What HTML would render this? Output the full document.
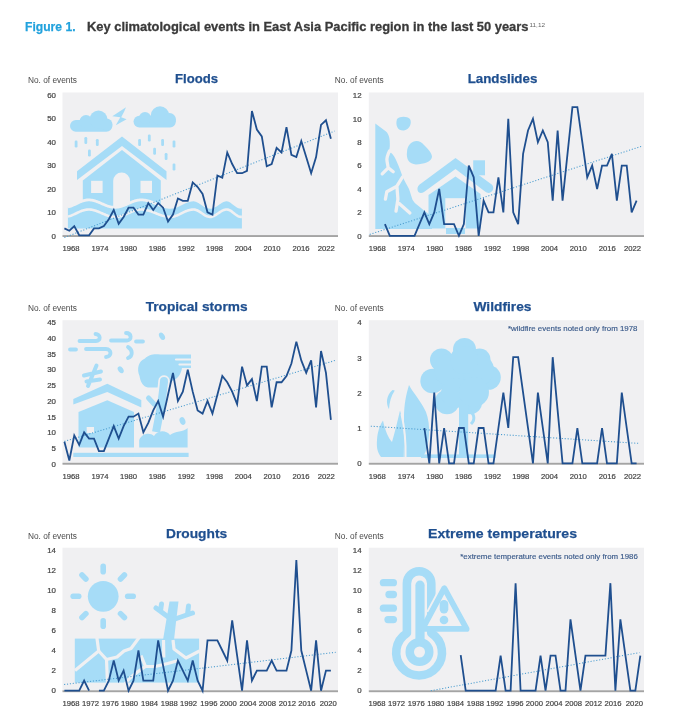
<!DOCTYPE html>
<html><head><meta charset="utf-8"><style>
html,body{margin:0;padding:0;background:#fff;width:680px;height:726px;overflow:hidden}
svg{display:block;will-change:transform}
text{font-family:"Liberation Sans", sans-serif}
</style></head><body>
<svg width="680" height="726" viewBox="0 0 680 726">
<text x="25" y="31.4" font-size="13.4" font-weight="bold" fill="#22a2dd" stroke="#22a2dd" stroke-width="0.25" textLength="50.5" lengthAdjust="spacingAndGlyphs">Figure 1.</text>
<text x="87" y="31.4" font-size="13.4" font-weight="bold" fill="#3a3a3a" stroke="#3a3a3a" stroke-width="0.3" textLength="441.5" lengthAdjust="spacingAndGlyphs">Key climatological events in East Asia Pacific region in the last 50 years</text>
<text x="529.5" y="26.5" font-size="6" fill="#666" textLength="15.5" lengthAdjust="spacingAndGlyphs">11,12</text>
<rect x="62.5" y="92.5" width="275.5" height="143.3" fill="#f0f0f2"/>
<g fill="#a6dcf7">
<rect x="70" y="120" width="42.3" height="11.8" rx="5.9"/>
<circle cx="86" cy="121.5" r="6.5"/><circle cx="98.5" cy="119.5" r="9"/><circle cx="106.5" cy="124.5" r="6"/>
<rect x="133.5" y="115.8" width="42.3" height="11.6" rx="5.8"/>
<circle cx="145" cy="118" r="6"/><circle cx="160" cy="115.5" r="9.2"/><circle cx="169.5" cy="119.5" r="6.5"/>
<polygon points="126,107.3 112.3,116.3 120.3,117.3 115.8,125.2 126.6,119.2 121.2,117.2 124.2,111.5"/>
<rect x="74.7" y="140.5" width="2.8" height="7" rx="1.2"/>
<rect x="84.4" y="137" width="2.8" height="7" rx="1.2"/>
<rect x="95.9" y="139" width="2.8" height="7" rx="1.2"/>
<rect x="88" y="149.5" width="2.8" height="7" rx="1.2"/>
<rect x="138.2" y="139" width="2.8" height="7" rx="1.2"/>
<rect x="147.9" y="134.5" width="2.8" height="7" rx="1.2"/>
<rect x="161.2" y="139" width="2.8" height="7" rx="1.2"/>
<rect x="172.6" y="140.5" width="2.8" height="7" rx="1.2"/>
<rect x="153.2" y="147.7" width="2.8" height="7" rx="1.2"/>
<rect x="164.7" y="153" width="2.8" height="7" rx="1.2"/>
<rect x="172.6" y="163.5" width="2.8" height="7" rx="1.2"/>
<polygon points="77,171.3 122,136.5 166.5,171.3 166.5,180 122,146 77,180"/>
<polygon points="82.8,180.6 122,150 160.8,180.6 160.8,206 82.8,206"/>
</g>
<g fill="#f0f0f2">
<rect x="91.1" y="180.8" width="11.5" height="12.2"/><rect x="140.5" y="180.8" width="11.5" height="12.2"/>
<path d="M113.2,206 L113.2,181 A8.4,8.4 0 0 1 130,181 L130,206 Z"/>
</g>
<polygon fill="#a6dcf7" points="67.9,206.94 68.9,206.7 69.9,206.41 70.9,206.08 71.9,205.7 72.9,205.28 73.9,204.84 74.9,204.37 75.9,203.89 76.9,203.41 77.9,202.93 78.9,202.46 79.9,202.01 80.9,201.58 81.9,201.2 82.9,200.85 83.9,200.55 84.9,200.3 85.9,200.11 86.9,199.98 87.9,199.91 88.9,199.9 89.9,199.95 90.9,200.05 91.9,200.2 92.9,200.39 93.9,200.63 94.9,200.91 95.9,201.23 96.9,201.59 97.9,201.97 98.9,202.37 99.9,202.8 100.9,203.23 101.9,203.67 102.9,204.1 103.9,204.53 104.9,204.95 105.9,205.35 106.9,205.72 107.9,206.06 108.9,206.37 109.9,206.64 110.9,206.87 111.9,207.05 112.9,207.19 113.9,207.27 114.9,207.3 115.9,207.28 116.9,207.21 117.9,207.08 118.9,206.91 119.9,206.69 120.9,206.42 121.9,206.12 122.9,205.78 123.9,205.41 124.9,205.02 125.9,204.6 126.9,204.17 127.9,203.73 128.9,203.29 129.9,202.86 130.9,202.43 131.9,202.02 132.9,201.64 133.9,201.28 134.9,200.95 135.9,200.66 136.9,200.42 137.9,200.22 138.9,200.06 139.9,199.96 140.9,199.91 141.9,199.91 142.9,199.95 143.9,200.04 144.9,200.17 145.9,200.34 146.9,200.55 147.9,200.8 148.9,201.09 149.9,201.4 150.9,201.74 151.9,202.1 152.9,202.48 153.9,202.87 154.9,203.28 155.9,203.68 156.9,204.09 157.9,204.49 158.9,204.87 159.9,205.25 160.9,205.6 161.9,205.93 162.9,206.23 163.9,206.5 164.9,206.73 165.9,206.93 166.9,207.09 167.9,207.2 168.9,207.27 169.9,207.3 170.9,207.27 171.9,207.18 172.9,207.03 173.9,206.81 174.9,206.53 175.9,206.21 176.9,205.83 177.9,205.42 178.9,204.98 179.9,204.51 180.9,204.02 181.9,203.53 182.9,203.03 183.9,202.55 184.9,202.09 185.9,201.65 186.9,201.25 187.9,200.89 188.9,200.58 189.9,200.32 190.9,200.12 191.9,199.98 192.9,199.91 193.9,199.91 194.9,200.03 195.9,200.28 196.9,200.65 197.9,201.12 198.9,201.69 199.9,202.32 200.9,203 201.9,203.71 202.9,204.4 203.9,205.07 204.9,205.69 205.9,206.23 206.9,206.67 207.9,207.01 208.9,207.22 209.9,207.3 210.9,207.25 211.9,207.07 212.9,206.76 213.9,206.35 214.9,205.84 215.9,205.25 216.9,204.6 217.9,203.91 218.9,203.22 219.9,202.54 220.9,201.89 221.9,201.31 222.9,200.81 223.9,200.4 224.9,200.11 225.9,199.94 226.9,199.9 227.9,200.03 228.9,200.32 229.9,200.78 230.9,201.37 231.9,202.06 232.9,202.83 233.9,203.64 234.9,204.45 235.9,205.21 236.9,205.9 237.9,206.47 238.9,206.91 239.9,207.19 240.9,207.3 241.9,207.3 241.9,228.6 67.9,228.6"/>
<polyline fill="none" stroke="#f0f0f2" stroke-width="2.8" points="67.9,206.94 68.9,206.7 69.9,206.41 70.9,206.08 71.9,205.7 72.9,205.28 73.9,204.84 74.9,204.37 75.9,203.89 76.9,203.41 77.9,202.93 78.9,202.46 79.9,202.01 80.9,201.58 81.9,201.2 82.9,200.85 83.9,200.55 84.9,200.3 85.9,200.11 86.9,199.98 87.9,199.91 88.9,199.9 89.9,199.95 90.9,200.05 91.9,200.2 92.9,200.39 93.9,200.63 94.9,200.91 95.9,201.23 96.9,201.59 97.9,201.97 98.9,202.37 99.9,202.8 100.9,203.23 101.9,203.67 102.9,204.1 103.9,204.53 104.9,204.95 105.9,205.35 106.9,205.72 107.9,206.06 108.9,206.37 109.9,206.64 110.9,206.87 111.9,207.05 112.9,207.19 113.9,207.27 114.9,207.3 115.9,207.28 116.9,207.21 117.9,207.08 118.9,206.91 119.9,206.69 120.9,206.42 121.9,206.12 122.9,205.78 123.9,205.41 124.9,205.02 125.9,204.6 126.9,204.17 127.9,203.73 128.9,203.29 129.9,202.86 130.9,202.43 131.9,202.02 132.9,201.64 133.9,201.28 134.9,200.95 135.9,200.66 136.9,200.42 137.9,200.22 138.9,200.06 139.9,199.96 140.9,199.91 141.9,199.91 142.9,199.95 143.9,200.04 144.9,200.17 145.9,200.34 146.9,200.55 147.9,200.8 148.9,201.09 149.9,201.4 150.9,201.74 151.9,202.1 152.9,202.48 153.9,202.87 154.9,203.28 155.9,203.68 156.9,204.09 157.9,204.49 158.9,204.87 159.9,205.25 160.9,205.6 161.9,205.93 162.9,206.23 163.9,206.5 164.9,206.73 165.9,206.93 166.9,207.09 167.9,207.2 168.9,207.27 169.9,207.3 170.9,207.27 171.9,207.18 172.9,207.03 173.9,206.81 174.9,206.53 175.9,206.21 176.9,205.83 177.9,205.42 178.9,204.98 179.9,204.51 180.9,204.02 181.9,203.53 182.9,203.03 183.9,202.55 184.9,202.09 185.9,201.65 186.9,201.25 187.9,200.89 188.9,200.58 189.9,200.32 190.9,200.12 191.9,199.98 192.9,199.91 193.9,199.91 194.9,200.03 195.9,200.28 196.9,200.65 197.9,201.12 198.9,201.69 199.9,202.32 200.9,203 201.9,203.71 202.9,204.4 203.9,205.07 204.9,205.69 205.9,206.23 206.9,206.67 207.9,207.01 208.9,207.22 209.9,207.3 210.9,207.25 211.9,207.07 212.9,206.76 213.9,206.35 214.9,205.84 215.9,205.25 216.9,204.6 217.9,203.91 218.9,203.22 219.9,202.54 220.9,201.89 221.9,201.31 222.9,200.81 223.9,200.4 224.9,200.11 225.9,199.94 226.9,199.9 227.9,200.03 228.9,200.32 229.9,200.78 230.9,201.37 231.9,202.06 232.9,202.83 233.9,203.64 234.9,204.45 235.9,205.21 236.9,205.9 237.9,206.47 238.9,206.91 239.9,207.19 240.9,207.3 241.9,207.3"/>
<polyline fill="none" stroke="#f0f0f2" stroke-width="2.6" points="67.9,216.54 68.9,216.3 69.9,216.01 70.9,215.68 71.9,215.3 72.9,214.88 73.9,214.44 74.9,213.97 75.9,213.49 76.9,213.01 77.9,212.53 78.9,212.06 79.9,211.61 80.9,211.18 81.9,210.8 82.9,210.45 83.9,210.15 84.9,209.9 85.9,209.71 86.9,209.58 87.9,209.51 88.9,209.5 89.9,209.55 90.9,209.65 91.9,209.8 92.9,209.99 93.9,210.23 94.9,210.51 95.9,210.83 96.9,211.19 97.9,211.57 98.9,211.97 99.9,212.4 100.9,212.83 101.9,213.27 102.9,213.7 103.9,214.13 104.9,214.55 105.9,214.95 106.9,215.32 107.9,215.66 108.9,215.97 109.9,216.24 110.9,216.47 111.9,216.65 112.9,216.79 113.9,216.87 114.9,216.9 115.9,216.88 116.9,216.81 117.9,216.68 118.9,216.51 119.9,216.29 120.9,216.02 121.9,215.72 122.9,215.38 123.9,215.01 124.9,214.62 125.9,214.2 126.9,213.77 127.9,213.33 128.9,212.89 129.9,212.46 130.9,212.03 131.9,211.62 132.9,211.24 133.9,210.88 134.9,210.55 135.9,210.26 136.9,210.02 137.9,209.82 138.9,209.66 139.9,209.56 140.9,209.51 141.9,209.51 142.9,209.55 143.9,209.64 144.9,209.77 145.9,209.94 146.9,210.15 147.9,210.4 148.9,210.69 149.9,211 150.9,211.34 151.9,211.7 152.9,212.08 153.9,212.47 154.9,212.88 155.9,213.28 156.9,213.69 157.9,214.09 158.9,214.47 159.9,214.85 160.9,215.2 161.9,215.53 162.9,215.83 163.9,216.1 164.9,216.33 165.9,216.53 166.9,216.69 167.9,216.8 168.9,216.87 169.9,216.9 170.9,216.87 171.9,216.78 172.9,216.63 173.9,216.41 174.9,216.13 175.9,215.81 176.9,215.43 177.9,215.02 178.9,214.58 179.9,214.11 180.9,213.62 181.9,213.13 182.9,212.63 183.9,212.15 184.9,211.69 185.9,211.25 186.9,210.85 187.9,210.49 188.9,210.18 189.9,209.92 190.9,209.72 191.9,209.58 192.9,209.51 193.9,209.51 194.9,209.63 195.9,209.88 196.9,210.25 197.9,210.72 198.9,211.29 199.9,211.92 200.9,212.6 201.9,213.31 202.9,214 203.9,214.67 204.9,215.29 205.9,215.83 206.9,216.27 207.9,216.61 208.9,216.82 209.9,216.9 210.9,216.85 211.9,216.67 212.9,216.36 213.9,215.95 214.9,215.44 215.9,214.85 216.9,214.2 217.9,213.51 218.9,212.82 219.9,212.14 220.9,211.49 221.9,210.91 222.9,210.41 223.9,210 224.9,209.71 225.9,209.54 226.9,209.5 227.9,209.63 228.9,209.92 229.9,210.38 230.9,210.97 231.9,211.66 232.9,212.43 233.9,213.24 234.9,214.05 235.9,214.81 236.9,215.5 237.9,216.07 238.9,216.51 239.9,216.79 240.9,216.9 241.9,216.9"/>
<rect x="62.5" y="235.1" width="275.5" height="1.9" fill="#a4a4a4"/>
<line x1="64.4" y1="237.6" x2="334.6" y2="131.1" stroke="#4a9ccf" stroke-width="1.05" stroke-dasharray="1.1 1.8"/>
<polyline points="64.4,228.4 69.34,230.7 74.27,226.1 79.21,235.3 84.14,235.3 89.08,235.3 94.01,228.4 98.94,228.4 103.88,226.1 108.81,219.2 113.75,210 118.69,223.8 123.62,216.9 128.56,207.7 133.49,207.7 138.43,214.6 143.36,214.6 148.3,203.1 153.23,210 158.16,203.1 163.1,207.7 168.03,221.5 172.97,214.6 177.91,198.5 182.84,200.8 187.77,200.8 192.71,182.4 197.64,187 202.58,193.9 207.51,212.3 212.45,214.6 217.38,175.5 222.32,177.8 227.25,152.5 232.19,164 237.12,173.2 242.06,173.2 247,170.9 251.93,111.1 256.87,129.5 261.8,136.4 266.74,166.3 271.67,164 276.61,147.9 281.54,152.5 286.48,127.2 291.41,154.8 296.35,157.1 301.28,141 306.21,157.1 311.15,173.2 316.08,157.1 321.02,124.9 325.96,120.3 330.89,138.7" fill="none" stroke="#1f4f8f" stroke-width="1.8" stroke-linejoin="miter" stroke-miterlimit="4" />
<text x="196.6" y="82.8" font-size="13.7" fill="#1f4f8f" text-anchor="middle" font-weight="bold" textLength="43" lengthAdjust="spacingAndGlyphs" stroke="#1f4f8f" stroke-width="0.25">Floods</text>
<text x="28" y="83.4" font-size="8.3" fill="#4a4a4a" text-anchor="start" font-weight="normal" >No. of events</text>
<text x="56" y="238.95" font-size="7.9" fill="#454545" text-anchor="end" font-weight="normal" stroke="#454545" stroke-width="0.22">0</text>
<text x="56" y="215.45" font-size="7.9" fill="#454545" text-anchor="end" font-weight="normal" stroke="#454545" stroke-width="0.22">10</text>
<text x="56" y="191.95" font-size="7.9" fill="#454545" text-anchor="end" font-weight="normal" stroke="#454545" stroke-width="0.22">20</text>
<text x="56" y="168.45" font-size="7.9" fill="#454545" text-anchor="end" font-weight="normal" stroke="#454545" stroke-width="0.22">30</text>
<text x="56" y="144.95" font-size="7.9" fill="#454545" text-anchor="end" font-weight="normal" stroke="#454545" stroke-width="0.22">40</text>
<text x="56" y="121.45" font-size="7.9" fill="#454545" text-anchor="end" font-weight="normal" stroke="#454545" stroke-width="0.22">50</text>
<text x="56" y="97.95" font-size="7.9" fill="#454545" text-anchor="end" font-weight="normal" stroke="#454545" stroke-width="0.22">60</text>
<text x="71" y="251.2" font-size="7.7" fill="#454545" text-anchor="middle" font-weight="normal" stroke="#454545" stroke-width="0.2">1968</text>
<text x="100" y="251.2" font-size="7.7" fill="#454545" text-anchor="middle" font-weight="normal" stroke="#454545" stroke-width="0.2">1974</text>
<text x="128.5" y="251.2" font-size="7.7" fill="#454545" text-anchor="middle" font-weight="normal" stroke="#454545" stroke-width="0.2">1980</text>
<text x="157.3" y="251.2" font-size="7.7" fill="#454545" text-anchor="middle" font-weight="normal" stroke="#454545" stroke-width="0.2">1986</text>
<text x="186.3" y="251.2" font-size="7.7" fill="#454545" text-anchor="middle" font-weight="normal" stroke="#454545" stroke-width="0.2">1992</text>
<text x="214.6" y="251.2" font-size="7.7" fill="#454545" text-anchor="middle" font-weight="normal" stroke="#454545" stroke-width="0.2">1998</text>
<text x="243.3" y="251.2" font-size="7.7" fill="#454545" text-anchor="middle" font-weight="normal" stroke="#454545" stroke-width="0.2">2004</text>
<text x="272.1" y="251.2" font-size="7.7" fill="#454545" text-anchor="middle" font-weight="normal" stroke="#454545" stroke-width="0.2">2010</text>
<text x="301" y="251.2" font-size="7.7" fill="#454545" text-anchor="middle" font-weight="normal" stroke="#454545" stroke-width="0.2">2016</text>
<text x="326.3" y="251.2" font-size="7.7" fill="#454545" text-anchor="middle" font-weight="normal" stroke="#454545" stroke-width="0.2">2022</text>
<rect x="368.8" y="92.5" width="275.2" height="143.3" fill="#f0f0f2"/>
<g fill="#a6dcf7">
<path d="M375.3,123.4 L386,131.6 C389,134 390.2,140 389.8,146 C389.6,149 389,151 388.5,153 L391,152.7 C393.5,155 395.5,158 396.8,161.8 C399,167 401,172 402.5,176.5 C404.5,181 407,185 409,189 C410.5,193 411.5,197 412.6,200 C414,202 415,203 416,204 C418.5,206 421,208 423.7,210.2 C427,212.5 430,215 432,217 L432,229 L375.3,229 Z"/>
<path d="M397,119 C400,116 407,116 410,119 C412,123 410,129 404,130.5 C398,131 395,126 397,119 Z"/>
<path d="M410,144 C414,140 420,140 424,145 C428,149 432,153 432,157 C431,162 424,164 416,164.5 C409,164 406,159 407,152 C407,149 408,146 410,144 Z"/>
<path d="M421,183.5 L455.5,158 L491,184 C494,186 494,190 491,192 C489,193.5 487,193 485,191.5 L455.5,169 L424,192 C421,194 418,193 417.5,190 C417,187 418.5,185 421,183.5 Z"/>
<rect x="473.2" y="160.3" width="11.8" height="15"/>
<polygon points="428.5,195 455.5,176.5 480.6,194 480.6,228.4 428.5,228.4"/>
</g>
<g fill="none" stroke="#f0f0f2" stroke-width="3.3" stroke-linecap="round" stroke-linejoin="round">
<path d="M389.5,151 C387.5,155 386.5,158 387,161 L388.2,167.8 L382.2,173.8 M388.2,167.8 L393.2,171.8"/>
<path d="M402.5,177 L396.9,186.2 L386.8,191.8 L385.4,199.2 M396.9,186.2 L397.9,199.2 L396,211.2 M399.2,203.5 L409.9,213"/>
</g>
<rect x="445.3" y="198.2" width="20.3" height="30.2" fill="#f0f0f2"/>
<rect x="446" y="228" width="19" height="6" fill="#a6dcf7"/>
<rect x="368.8" y="235.1" width="275.2" height="1.9" fill="#a4a4a4"/>
<line x1="369.7" y1="234.4" x2="641.2" y2="146.4" stroke="#4a9ccf" stroke-width="1.05" stroke-dasharray="1.1 1.8"/>
<polyline points="384.91,224.1 389.84,235.8 394.78,235.8 399.71,235.8 404.65,235.8 409.58,235.8 414.52,235.8 419.45,224.1 424.38,212.4 429.32,224.1 434.25,212.4 439.19,189 444.12,224.1 449.06,224.1 454,224.1 458.93,235.8 463.87,224.1 468.8,165.6 473.74,177.3 478.67,235.8 483.61,200.7 488.54,212.4 493.48,212.4 498.41,177.3 503.35,212.4 508.28,118.8 513.22,212.4 518.15,224.1 523.09,153.9 528.02,130.5 532.96,118.8 537.89,142.2 542.83,130.5 547.76,142.2 552.7,200.7 557.63,130.5 562.57,200.7 567.5,153.9 572.43,107.1 577.37,107.1 582.31,142.2 587.24,177.3 592.17,165.6 597.11,189 602.05,165.6 606.98,165.6 611.91,153.9 616.85,200.7 621.78,165.6 626.72,165.6 631.65,212.4 636.59,200.7" fill="none" stroke="#1f4f8f" stroke-width="1.8" stroke-linejoin="miter" stroke-miterlimit="4" />
<text x="502.5" y="82.8" font-size="13.7" fill="#1f4f8f" text-anchor="middle" font-weight="bold" textLength="69.7" lengthAdjust="spacingAndGlyphs" stroke="#1f4f8f" stroke-width="0.25">Landslides</text>
<text x="334.8" y="83.4" font-size="8.3" fill="#4a4a4a" text-anchor="start" font-weight="normal" >No. of events</text>
<text x="361.6" y="238.55" font-size="7.9" fill="#454545" text-anchor="end" font-weight="normal" stroke="#454545" stroke-width="0.22">0</text>
<text x="361.6" y="215.15" font-size="7.9" fill="#454545" text-anchor="end" font-weight="normal" stroke="#454545" stroke-width="0.22">2</text>
<text x="361.6" y="191.75" font-size="7.9" fill="#454545" text-anchor="end" font-weight="normal" stroke="#454545" stroke-width="0.22">4</text>
<text x="361.6" y="168.35" font-size="7.9" fill="#454545" text-anchor="end" font-weight="normal" stroke="#454545" stroke-width="0.22">6</text>
<text x="361.6" y="144.95" font-size="7.9" fill="#454545" text-anchor="end" font-weight="normal" stroke="#454545" stroke-width="0.22">8</text>
<text x="361.6" y="121.55" font-size="7.9" fill="#454545" text-anchor="end" font-weight="normal" stroke="#454545" stroke-width="0.22">10</text>
<text x="361.6" y="98.15" font-size="7.9" fill="#454545" text-anchor="end" font-weight="normal" stroke="#454545" stroke-width="0.22">12</text>
<text x="377.2" y="251.2" font-size="7.7" fill="#454545" text-anchor="middle" font-weight="normal" stroke="#454545" stroke-width="0.2">1968</text>
<text x="406.2" y="251.2" font-size="7.7" fill="#454545" text-anchor="middle" font-weight="normal" stroke="#454545" stroke-width="0.2">1974</text>
<text x="434.7" y="251.2" font-size="7.7" fill="#454545" text-anchor="middle" font-weight="normal" stroke="#454545" stroke-width="0.2">1980</text>
<text x="463.5" y="251.2" font-size="7.7" fill="#454545" text-anchor="middle" font-weight="normal" stroke="#454545" stroke-width="0.2">1986</text>
<text x="492.5" y="251.2" font-size="7.7" fill="#454545" text-anchor="middle" font-weight="normal" stroke="#454545" stroke-width="0.2">1992</text>
<text x="520.8" y="251.2" font-size="7.7" fill="#454545" text-anchor="middle" font-weight="normal" stroke="#454545" stroke-width="0.2">1998</text>
<text x="549.5" y="251.2" font-size="7.7" fill="#454545" text-anchor="middle" font-weight="normal" stroke="#454545" stroke-width="0.2">2004</text>
<text x="578.3" y="251.2" font-size="7.7" fill="#454545" text-anchor="middle" font-weight="normal" stroke="#454545" stroke-width="0.2">2010</text>
<text x="607.2" y="251.2" font-size="7.7" fill="#454545" text-anchor="middle" font-weight="normal" stroke="#454545" stroke-width="0.2">2016</text>
<text x="632.5" y="251.2" font-size="7.7" fill="#454545" text-anchor="middle" font-weight="normal" stroke="#454545" stroke-width="0.2">2022</text>
<rect x="62.5" y="320.2" width="275.5" height="143.3" fill="#f0f0f2"/>
<g fill="none" stroke="#a6dcf7" stroke-width="3.8" stroke-linecap="round">
<path d="M79.5,341 L96,341 C101,341 101,334 95.5,334"/>
<path d="M111,340.5 L127,340.5 C132,340.5 132,333 126,333 M136,341.5 L143,341.5"/>
<path d="M70,349.5 L76,349.5 M86,349 L106,349 C112,349 112,357 106,357"/>
<path d="M128,347 C133,350 133,356 128,358"/>
</g>
<g fill="#a6dcf7">
<ellipse cx="162" cy="336.3" rx="2.6" ry="4" transform="rotate(-30 162 336.3)"/>
<ellipse cx="120.7" cy="369.8" rx="2.5" ry="3.8" transform="rotate(-35 120.7 369.8)"/>
<ellipse cx="182.5" cy="421" rx="2.8" ry="4" transform="rotate(-20 182.5 421)"/>
</g>
<g fill="none" stroke="#a6dcf7" stroke-width="4" stroke-linecap="round">
<path d="M96.5,365.5 L88,386 M84,375.5 L101,371.5 M86.5,381.5 L100,379.5"/>
</g>
<g fill="#a6dcf7">
<polygon points="73.3,399 107.3,383.8 141.3,400 141.3,407.5 107.3,392 73.3,404.5"/>
<polygon points="78.5,412 107.3,400.3 134,412 134,447.6 78.5,447.6"/>
<path d="M139.5,376 C136.5,369 138.5,361 145,358.5 C148,354.5 155,353.5 160,354.5 L191,354.5 L191,368 L182,368 C181,374 178,379 172,381 C168,386 162,388 155,387.5 L148,387.5 C143,386.5 140.5,382 139.5,376 Z"/>
</g>
<g fill="none" stroke="#f0f0f2" stroke-linecap="round">
<path d="M176,359.5 L193,359.5 M179.5,364.5 L193,364.5" stroke-width="2.2"/>
<path d="M164,381 C163,395 160,412 156,432" stroke-width="11.5"/>
<path d="M154,404 L148.5,398" stroke-width="8.5"/>
</g>
<g fill="none" stroke="#a6dcf7" stroke-linecap="round">
<path d="M164,381 C163,395 160,412 156,432" stroke-width="8" stroke-linecap="butt"/>
<path d="M154,404 L148.5,398" stroke-width="5"/>
</g>
<circle cx="164" cy="381" r="4" fill="#a6dcf7"/>
<g fill="#a6dcf7">
<path d="M139.2,447.6 L139.2,440 C142,433 150,432 154,436 C158,430 166,430 170,435 C175,431 184,432 187.6,428 L187.6,447.6 Z"/>
<rect x="73.3" y="452.8" width="115.3" height="4.2"/>
</g>
<g fill="none" stroke="#a6dcf7" stroke-width="2.2" stroke-linecap="round">
</g>
<rect x="86.7" y="427" width="7.3" height="6" fill="#f0f0f2"/>
<rect x="62.5" y="462.8" width="275.5" height="1.9" fill="#a4a4a4"/>
<line x1="64.3" y1="441.4" x2="335.7" y2="360.3" stroke="#4a9ccf" stroke-width="1.05" stroke-dasharray="1.1 1.8"/>
<polyline points="64.4,441.7 69.34,460.47 74.27,435.45 79.21,444.83 84.14,432.32 89.08,438.58 94.01,438.58 98.94,451.09 103.88,451.09 108.81,438.58 113.75,426.06 118.69,438.58 123.62,426.06 128.56,416.68 133.49,416.68 138.43,413.55 143.36,432.32 148.3,422.94 153.23,410.42 158.16,401.04 163.1,416.68 168.03,394.78 172.97,372.89 177.91,401.04 182.84,391.66 187.77,369.76 192.71,391.66 197.64,410.42 202.58,413.55 207.51,401.04 212.45,413.55 217.38,394.78 222.32,376.02 227.25,382.27 232.19,391.66 237.12,404.17 242.06,366.63 247,385.4 251.93,379.14 256.87,401.04 261.8,366.63 266.74,366.63 271.67,407.3 276.61,382.27 281.54,382.27 286.48,376.02 291.41,363.5 296.35,341.61 301.28,360.38 306.21,372.89 311.15,360.38 316.08,407.3 321.02,350.99 325.96,372.89 330.89,419.81" fill="none" stroke="#1f4f8f" stroke-width="1.8" stroke-linejoin="miter" stroke-miterlimit="4" />
<text x="196.6" y="310.5" font-size="13.7" fill="#1f4f8f" text-anchor="middle" font-weight="bold" textLength="101.8" lengthAdjust="spacingAndGlyphs" stroke="#1f4f8f" stroke-width="0.25">Tropical storms</text>
<text x="28" y="311.1" font-size="8.3" fill="#4a4a4a" text-anchor="start" font-weight="normal" >No. of events</text>
<text x="56" y="466.65" font-size="7.9" fill="#454545" text-anchor="end" font-weight="normal" stroke="#454545" stroke-width="0.22">0</text>
<text x="56" y="450.94" font-size="7.9" fill="#454545" text-anchor="end" font-weight="normal" stroke="#454545" stroke-width="0.22">5</text>
<text x="56" y="435.23" font-size="7.9" fill="#454545" text-anchor="end" font-weight="normal" stroke="#454545" stroke-width="0.22">10</text>
<text x="56" y="419.52" font-size="7.9" fill="#454545" text-anchor="end" font-weight="normal" stroke="#454545" stroke-width="0.22">15</text>
<text x="56" y="403.81" font-size="7.9" fill="#454545" text-anchor="end" font-weight="normal" stroke="#454545" stroke-width="0.22">20</text>
<text x="56" y="388.1" font-size="7.9" fill="#454545" text-anchor="end" font-weight="normal" stroke="#454545" stroke-width="0.22">25</text>
<text x="56" y="372.39" font-size="7.9" fill="#454545" text-anchor="end" font-weight="normal" stroke="#454545" stroke-width="0.22">30</text>
<text x="56" y="356.68" font-size="7.9" fill="#454545" text-anchor="end" font-weight="normal" stroke="#454545" stroke-width="0.22">35</text>
<text x="56" y="340.97" font-size="7.9" fill="#454545" text-anchor="end" font-weight="normal" stroke="#454545" stroke-width="0.22">40</text>
<text x="56" y="325.26" font-size="7.9" fill="#454545" text-anchor="end" font-weight="normal" stroke="#454545" stroke-width="0.22">45</text>
<text x="71" y="478.9" font-size="7.7" fill="#454545" text-anchor="middle" font-weight="normal" stroke="#454545" stroke-width="0.2">1968</text>
<text x="100" y="478.9" font-size="7.7" fill="#454545" text-anchor="middle" font-weight="normal" stroke="#454545" stroke-width="0.2">1974</text>
<text x="128.5" y="478.9" font-size="7.7" fill="#454545" text-anchor="middle" font-weight="normal" stroke="#454545" stroke-width="0.2">1980</text>
<text x="157.3" y="478.9" font-size="7.7" fill="#454545" text-anchor="middle" font-weight="normal" stroke="#454545" stroke-width="0.2">1986</text>
<text x="186.3" y="478.9" font-size="7.7" fill="#454545" text-anchor="middle" font-weight="normal" stroke="#454545" stroke-width="0.2">1992</text>
<text x="214.6" y="478.9" font-size="7.7" fill="#454545" text-anchor="middle" font-weight="normal" stroke="#454545" stroke-width="0.2">1998</text>
<text x="243.3" y="478.9" font-size="7.7" fill="#454545" text-anchor="middle" font-weight="normal" stroke="#454545" stroke-width="0.2">2004</text>
<text x="272.1" y="478.9" font-size="7.7" fill="#454545" text-anchor="middle" font-weight="normal" stroke="#454545" stroke-width="0.2">2010</text>
<text x="301" y="478.9" font-size="7.7" fill="#454545" text-anchor="middle" font-weight="normal" stroke="#454545" stroke-width="0.2">2016</text>
<text x="326.3" y="478.9" font-size="7.7" fill="#454545" text-anchor="middle" font-weight="normal" stroke="#454545" stroke-width="0.2">2022</text>
<rect x="368.8" y="320.2" width="275.2" height="143.3" fill="#f0f0f2"/>
<g fill="#a6dcf7">
<circle cx="464.5" cy="349.5" r="11.5"/>
<circle cx="441.5" cy="360" r="11.5"/>
<circle cx="432.5" cy="381" r="12.2"/>
<circle cx="447" cy="402" r="12.2"/>
<circle cx="470" cy="402" r="12.2"/>
<circle cx="488.5" cy="377.5" r="12.3"/>
<circle cx="479.5" cy="359.5" r="11"/>
<circle cx="464.5" cy="381" r="24"/>
<circle cx="450" cy="370" r="16"/>
<circle cx="478" cy="370" r="16"/>
<circle cx="456" cy="393" r="15"/>
<circle cx="474" cy="392" r="15"/>
<circle cx="464" cy="360" r="14"/>
<rect x="459" y="405" width="9.2" height="52"/>
<rect x="421" y="454.4" width="74.5" height="3.6"/>
<path d="M403.5,457 L404,418 C404,405 406,395 409,385.1 C413,393 421,401 426,412 C431,425 430,445 423,457 Z"/>
<path d="M381,457 C377,452 376.5,446 377,440 C377.5,432 380,425 383,420.6 C385,430 388,438 392,442 C395,432 397.5,421 400,410.5 C403,420 404.5,432 404,445 L403.5,457 Z"/>
<path d="M392.5,390 C386.5,395 385.5,403 389,409.3 C389.5,402 391,396 394.8,390.5 Z"/>
</g>
<path d="M468,411.5 C474,412 476,419 471,424" fill="none" stroke="#a6dcf7" stroke-width="3"/>
<path d="M405.5,457 C406,440 404,425 401.5,414" fill="none" stroke="#f0f0f2" stroke-width="2"/>
<rect x="368.8" y="462.8" width="275.2" height="1.9" fill="#a4a4a4"/>
<line x1="370.8" y1="426.2" x2="639" y2="443.4" stroke="#4a9ccf" stroke-width="1.05" stroke-dasharray="1.1 1.8"/>
<polyline points="424.38,428 429.32,463.4 434.25,392.6 439.19,463.4 444.12,428 449.06,463.4 454,463.4 458.93,428 463.87,428 468.8,463.4 473.74,463.4 478.67,428 483.61,428 488.54,463.4 493.48,463.4 498.41,428 503.35,392.6 508.28,428 513.22,357.2 518.15,357.2 523.09,392.6 528.02,428 532.96,463.4 537.89,392.6 542.83,428 547.76,463.4 552.7,357.2 557.63,410.3 562.57,463.4 567.5,463.4 572.43,463.4 577.37,428 582.31,463.4 587.24,463.4 592.17,463.4 597.11,463.4 602.05,428 606.98,463.4 611.91,463.4 616.85,463.4 621.78,392.6 626.72,428 631.65,463.4 636.59,463.4" fill="none" stroke="#1f4f8f" stroke-width="1.8" stroke-linejoin="miter" stroke-miterlimit="4" />
<text x="502.5" y="310.5" font-size="13.7" fill="#1f4f8f" text-anchor="middle" font-weight="bold" textLength="58" lengthAdjust="spacingAndGlyphs" stroke="#1f4f8f" stroke-width="0.25">Wildfires</text>
<text x="334.8" y="311.1" font-size="8.3" fill="#4a4a4a" text-anchor="start" font-weight="normal" >No. of events</text>
<text x="361.6" y="466.35" font-size="7.9" fill="#454545" text-anchor="end" font-weight="normal" stroke="#454545" stroke-width="0.22">0</text>
<text x="361.6" y="431.1" font-size="7.9" fill="#454545" text-anchor="end" font-weight="normal" stroke="#454545" stroke-width="0.22">1</text>
<text x="361.6" y="395.85" font-size="7.9" fill="#454545" text-anchor="end" font-weight="normal" stroke="#454545" stroke-width="0.22">2</text>
<text x="361.6" y="360.6" font-size="7.9" fill="#454545" text-anchor="end" font-weight="normal" stroke="#454545" stroke-width="0.22">3</text>
<text x="361.6" y="325.35" font-size="7.9" fill="#454545" text-anchor="end" font-weight="normal" stroke="#454545" stroke-width="0.22">4</text>
<text x="377.2" y="478.9" font-size="7.7" fill="#454545" text-anchor="middle" font-weight="normal" stroke="#454545" stroke-width="0.2">1968</text>
<text x="406.2" y="478.9" font-size="7.7" fill="#454545" text-anchor="middle" font-weight="normal" stroke="#454545" stroke-width="0.2">1974</text>
<text x="434.7" y="478.9" font-size="7.7" fill="#454545" text-anchor="middle" font-weight="normal" stroke="#454545" stroke-width="0.2">1980</text>
<text x="463.5" y="478.9" font-size="7.7" fill="#454545" text-anchor="middle" font-weight="normal" stroke="#454545" stroke-width="0.2">1986</text>
<text x="492.5" y="478.9" font-size="7.7" fill="#454545" text-anchor="middle" font-weight="normal" stroke="#454545" stroke-width="0.2">1992</text>
<text x="520.8" y="478.9" font-size="7.7" fill="#454545" text-anchor="middle" font-weight="normal" stroke="#454545" stroke-width="0.2">1998</text>
<text x="549.5" y="478.9" font-size="7.7" fill="#454545" text-anchor="middle" font-weight="normal" stroke="#454545" stroke-width="0.2">2004</text>
<text x="578.3" y="478.9" font-size="7.7" fill="#454545" text-anchor="middle" font-weight="normal" stroke="#454545" stroke-width="0.2">2010</text>
<text x="607.2" y="478.9" font-size="7.7" fill="#454545" text-anchor="middle" font-weight="normal" stroke="#454545" stroke-width="0.2">2016</text>
<text x="632.5" y="478.9" font-size="7.7" fill="#454545" text-anchor="middle" font-weight="normal" stroke="#454545" stroke-width="0.2">2022</text>
<text x="637.5" y="330.6" font-size="7.9" fill="#3a5a8a" stroke="#3a5a8a" stroke-width="0.15" text-anchor="end" textLength="129.5" lengthAdjust="spacingAndGlyphs">*wildfire events noted only from 1978</text>
<rect x="62.5" y="547.7" width="275.5" height="143.3" fill="#f0f0f2"/>
<g fill="#a6dcf7">
<circle cx="103.2" cy="596.3" r="15.4"/>
</g>
<g stroke="#a6dcf7" stroke-width="5.6" stroke-linecap="round">
<line x1="127.7" y1="596.3" x2="133.2" y2="596.3"/>
<line x1="120.52" y1="613.62" x2="124.41" y2="617.51"/>
<line x1="103.2" y1="620.8" x2="103.2" y2="626.3"/>
<line x1="85.88" y1="613.62" x2="81.99" y2="617.51"/>
<line x1="78.7" y1="596.3" x2="73.2" y2="596.3"/>
<line x1="85.88" y1="578.98" x2="81.99" y2="575.09"/>
<line x1="103.2" y1="571.8" x2="103.2" y2="566.3"/>
<line x1="120.52" y1="578.98" x2="124.41" y2="575.09"/>
</g>
<g fill="#a6dcf7">
<rect x="74.8" y="638.6" width="124.3" height="44"/>
<path d="M169.5,601.5 L178.5,601.5 L176,622 L174,640 L163,640 L166,622 Z"/>
</g>
<g fill="none" stroke="#a6dcf7" stroke-width="5" stroke-linecap="round" stroke-linejoin="round">
<path d="M167.5,616.5 L156,608 M160.5,611 L161.5,604"/>
<path d="M175,619 L192.5,613 M187.5,614.5 L188.5,606"/>
</g>
<g fill="none" stroke="#f0f0f2" stroke-width="3.2" stroke-linejoin="round" stroke-linecap="butt">
<path d="M96.8,637 L98.7,651 L75,670.5"/>
<path d="M98.7,651 L106.5,659.5 L107.5,684"/>
<path d="M106.5,659.5 L117,657 L124,651 L131,648.5 L139.5,637"/>
<path d="M141,655.5 L145.5,666.5 L155,666.5 L167.7,663.5 L178.5,660.5"/>
<path d="M163.5,640 L163.8,657.5 M173,640 L174,649 L186,658 L199.5,651"/>
<path d="M125,684 C130,676 138,672 145.5,666.5"/>
</g>
<rect x="62.5" y="690.3" width="275.5" height="1.9" fill="#a4a4a4"/>
<line x1="64.1" y1="684.5" x2="335.7" y2="652.3" stroke="#4a9ccf" stroke-width="1.05" stroke-dasharray="1.1 1.8"/>
<polyline points="64.4,690.7 69.34,690.7 74.27,690.7 79.21,690.7 84.14,680.65 89.08,690.7" fill="none" stroke="#1f4f8f" stroke-width="1.8" stroke-linejoin="miter" stroke-miterlimit="4" />
<polyline points="98.94,690.7 103.88,690.7 108.81,680.65 113.75,660.55 118.69,680.65 123.62,670.6 128.56,690.7 133.49,680.65 138.43,650.5 143.36,680.65 148.3,680.65 153.23,680.65 158.16,640.45 163.1,665.58 168.03,690.7 172.97,680.65 177.91,660.55 182.84,670.6 187.77,680.65 192.71,660.55 197.64,680.65 202.58,690.7 207.51,640.45 212.45,640.45 217.38,640.45 222.32,650.5 227.25,660.55 232.19,620.35 237.12,655.53 242.06,690.7 247,640.45 251.93,680.65 256.87,670.6 261.8,670.6 266.74,670.6 271.67,660.55 276.61,670.6 281.54,670.6 286.48,670.6 291.41,650.5 296.35,560.05 301.28,650.5 306.21,670.6 311.15,690.7 316.08,640.45 321.02,690.7 325.96,670.6 330.89,670.6" fill="none" stroke="#1f4f8f" stroke-width="1.8" stroke-linejoin="miter" stroke-miterlimit="4" />
<text x="196.6" y="538" font-size="13.7" fill="#1f4f8f" text-anchor="middle" font-weight="bold" textLength="61" lengthAdjust="spacingAndGlyphs" stroke="#1f4f8f" stroke-width="0.25">Droughts</text>
<text x="28" y="538.6" font-size="8.3" fill="#4a4a4a" text-anchor="start" font-weight="normal" >No. of events</text>
<text x="56" y="693.35" font-size="7.9" fill="#454545" text-anchor="end" font-weight="normal" stroke="#454545" stroke-width="0.22">0</text>
<text x="56" y="673.25" font-size="7.9" fill="#454545" text-anchor="end" font-weight="normal" stroke="#454545" stroke-width="0.22">2</text>
<text x="56" y="653.15" font-size="7.9" fill="#454545" text-anchor="end" font-weight="normal" stroke="#454545" stroke-width="0.22">4</text>
<text x="56" y="633.05" font-size="7.9" fill="#454545" text-anchor="end" font-weight="normal" stroke="#454545" stroke-width="0.22">6</text>
<text x="56" y="612.95" font-size="7.9" fill="#454545" text-anchor="end" font-weight="normal" stroke="#454545" stroke-width="0.22">8</text>
<text x="56" y="592.85" font-size="7.9" fill="#454545" text-anchor="end" font-weight="normal" stroke="#454545" stroke-width="0.22">10</text>
<text x="56" y="572.75" font-size="7.9" fill="#454545" text-anchor="end" font-weight="normal" stroke="#454545" stroke-width="0.22">12</text>
<text x="56" y="552.65" font-size="7.9" fill="#454545" text-anchor="end" font-weight="normal" stroke="#454545" stroke-width="0.22">14</text>
<text x="71" y="706.4" font-size="7.7" fill="#454545" text-anchor="middle" font-weight="normal" stroke="#454545" stroke-width="0.2">1968</text>
<text x="90.5" y="706.4" font-size="7.7" fill="#454545" text-anchor="middle" font-weight="normal" stroke="#454545" stroke-width="0.2">1972</text>
<text x="110.2" y="706.4" font-size="7.7" fill="#454545" text-anchor="middle" font-weight="normal" stroke="#454545" stroke-width="0.2">1976</text>
<text x="129.6" y="706.4" font-size="7.7" fill="#454545" text-anchor="middle" font-weight="normal" stroke="#454545" stroke-width="0.2">1980</text>
<text x="149.5" y="706.4" font-size="7.7" fill="#454545" text-anchor="middle" font-weight="normal" stroke="#454545" stroke-width="0.2">1984</text>
<text x="169.3" y="706.4" font-size="7.7" fill="#454545" text-anchor="middle" font-weight="normal" stroke="#454545" stroke-width="0.2">1988</text>
<text x="188.6" y="706.4" font-size="7.7" fill="#454545" text-anchor="middle" font-weight="normal" stroke="#454545" stroke-width="0.2">1992</text>
<text x="208.9" y="706.4" font-size="7.7" fill="#454545" text-anchor="middle" font-weight="normal" stroke="#454545" stroke-width="0.2">1996</text>
<text x="228.3" y="706.4" font-size="7.7" fill="#454545" text-anchor="middle" font-weight="normal" stroke="#454545" stroke-width="0.2">2000</text>
<text x="248" y="706.4" font-size="7.7" fill="#454545" text-anchor="middle" font-weight="normal" stroke="#454545" stroke-width="0.2">2004</text>
<text x="267.4" y="706.4" font-size="7.7" fill="#454545" text-anchor="middle" font-weight="normal" stroke="#454545" stroke-width="0.2">2008</text>
<text x="287.4" y="706.4" font-size="7.7" fill="#454545" text-anchor="middle" font-weight="normal" stroke="#454545" stroke-width="0.2">2012</text>
<text x="306.9" y="706.4" font-size="7.7" fill="#454545" text-anchor="middle" font-weight="normal" stroke="#454545" stroke-width="0.2">2016</text>
<text x="328.3" y="706.4" font-size="7.7" fill="#454545" text-anchor="middle" font-weight="normal" stroke="#454545" stroke-width="0.2">2020</text>
<rect x="368.8" y="547.7" width="275.2" height="143.3" fill="#f0f0f2"/>
<g fill="none" stroke="#a6dcf7" stroke-linecap="round" stroke-linejoin="round">
<path d="M406.9,633.15 L406.9,583.4 A12.2,12.2 0 0 1 431.3,583.4 L431.3,633.15 A22.9,22.9 0 1 1 406.9,633.15 Z" stroke-width="8.6"/>
<circle cx="419.5" cy="652" r="9.75" stroke-width="8.5"/>
<line x1="420" y1="585.2" x2="420" y2="640" stroke-width="9.2"/>
</g>
<path d="M446,586 L431,614" fill="none" stroke="#f0f0f2" stroke-width="10.5" stroke-linecap="butt"/>
<path d="M444.3,588.2 L422.5,628.95 L466.6,628.95 Z" fill="#f0f0f2" stroke="#a6dcf7" stroke-width="5.8" stroke-linejoin="round"/>
<g stroke="#a6dcf7" stroke-width="7.3" stroke-linecap="round">
<line x1="383.4" y1="582.7" x2="393.4" y2="582.7"/><line x1="389" y1="594.5" x2="393.4" y2="594.5"/><line x1="383.4" y1="608.2" x2="393.4" y2="608.2"/><line x1="388" y1="619.6" x2="393.4" y2="619.6"/>
</g>
<g fill="#a6dcf7">
<rect x="439.7" y="599.9" width="8.6" height="13.6" rx="4.2"/>
<circle cx="444" cy="620" r="4.3"/>
</g>
<rect x="368.8" y="690.3" width="275.2" height="1.9" fill="#a4a4a4"/>
<line x1="430.8" y1="690.7" x2="639.4" y2="652.6" stroke="#4a9ccf" stroke-width="1.05" stroke-dasharray="1.1 1.8"/>
<polyline points="460.7,655.02 465.69,690.7 470.68,690.7 475.67,690.7 480.66,690.7 485.65,690.7 490.64,690.7 495.63,690.7 500.62,655.53 505.61,690.7 510.6,690.7 515.59,583.17 520.58,690.7 525.57,690.7 530.56,690.7 535.55,690.7 540.54,655.53 545.53,690.7 550.52,655.53 555.51,655.53 560.5,690.7 565.49,690.7 570.48,619.35 575.47,655.02 580.46,690.7 585.45,655.53 590.44,655.53 595.43,655.53 600.42,655.53 605.41,655.53 610.4,583.17 615.39,690.7 620.38,619.35 625.37,655.02 630.36,690.7 635.35,690.7 640.34,655.53" fill="none" stroke="#1f4f8f" stroke-width="1.8" stroke-linejoin="miter" stroke-miterlimit="4" />
<text x="502.5" y="538" font-size="13.7" fill="#1f4f8f" text-anchor="middle" font-weight="bold" textLength="149" lengthAdjust="spacingAndGlyphs" stroke="#1f4f8f" stroke-width="0.25">Extreme temperatures</text>
<text x="334.8" y="538.6" font-size="8.3" fill="#4a4a4a" text-anchor="start" font-weight="normal" >No. of events</text>
<text x="361.6" y="693.35" font-size="7.9" fill="#454545" text-anchor="end" font-weight="normal" stroke="#454545" stroke-width="0.22">0</text>
<text x="361.6" y="673.25" font-size="7.9" fill="#454545" text-anchor="end" font-weight="normal" stroke="#454545" stroke-width="0.22">2</text>
<text x="361.6" y="653.15" font-size="7.9" fill="#454545" text-anchor="end" font-weight="normal" stroke="#454545" stroke-width="0.22">4</text>
<text x="361.6" y="633.05" font-size="7.9" fill="#454545" text-anchor="end" font-weight="normal" stroke="#454545" stroke-width="0.22">6</text>
<text x="361.6" y="612.95" font-size="7.9" fill="#454545" text-anchor="end" font-weight="normal" stroke="#454545" stroke-width="0.22">8</text>
<text x="361.6" y="592.85" font-size="7.9" fill="#454545" text-anchor="end" font-weight="normal" stroke="#454545" stroke-width="0.22">10</text>
<text x="361.6" y="572.75" font-size="7.9" fill="#454545" text-anchor="end" font-weight="normal" stroke="#454545" stroke-width="0.22">12</text>
<text x="361.6" y="552.65" font-size="7.9" fill="#454545" text-anchor="end" font-weight="normal" stroke="#454545" stroke-width="0.22">14</text>
<text x="377.1" y="706.4" font-size="7.7" fill="#454545" text-anchor="middle" font-weight="normal" stroke="#454545" stroke-width="0.2">1968</text>
<text x="396.6" y="706.4" font-size="7.7" fill="#454545" text-anchor="middle" font-weight="normal" stroke="#454545" stroke-width="0.2">1972</text>
<text x="416.3" y="706.4" font-size="7.7" fill="#454545" text-anchor="middle" font-weight="normal" stroke="#454545" stroke-width="0.2">1976</text>
<text x="435.7" y="706.4" font-size="7.7" fill="#454545" text-anchor="middle" font-weight="normal" stroke="#454545" stroke-width="0.2">1980</text>
<text x="455.6" y="706.4" font-size="7.7" fill="#454545" text-anchor="middle" font-weight="normal" stroke="#454545" stroke-width="0.2">1984</text>
<text x="475.4" y="706.4" font-size="7.7" fill="#454545" text-anchor="middle" font-weight="normal" stroke="#454545" stroke-width="0.2">1988</text>
<text x="494.7" y="706.4" font-size="7.7" fill="#454545" text-anchor="middle" font-weight="normal" stroke="#454545" stroke-width="0.2">1992</text>
<text x="515" y="706.4" font-size="7.7" fill="#454545" text-anchor="middle" font-weight="normal" stroke="#454545" stroke-width="0.2">1996</text>
<text x="534.4" y="706.4" font-size="7.7" fill="#454545" text-anchor="middle" font-weight="normal" stroke="#454545" stroke-width="0.2">2000</text>
<text x="554.1" y="706.4" font-size="7.7" fill="#454545" text-anchor="middle" font-weight="normal" stroke="#454545" stroke-width="0.2">2004</text>
<text x="573.5" y="706.4" font-size="7.7" fill="#454545" text-anchor="middle" font-weight="normal" stroke="#454545" stroke-width="0.2">2008</text>
<text x="593.5" y="706.4" font-size="7.7" fill="#454545" text-anchor="middle" font-weight="normal" stroke="#454545" stroke-width="0.2">2012</text>
<text x="613" y="706.4" font-size="7.7" fill="#454545" text-anchor="middle" font-weight="normal" stroke="#454545" stroke-width="0.2">2016</text>
<text x="634.4" y="706.4" font-size="7.7" fill="#454545" text-anchor="middle" font-weight="normal" stroke="#454545" stroke-width="0.2">2020</text>
<text x="637.8" y="558.6" font-size="7.9" fill="#3a5a8a" stroke="#3a5a8a" stroke-width="0.15" text-anchor="end" textLength="177.5" lengthAdjust="spacingAndGlyphs">*extreme temperature events noted only from 1986</text>
</svg>
</body></html>
